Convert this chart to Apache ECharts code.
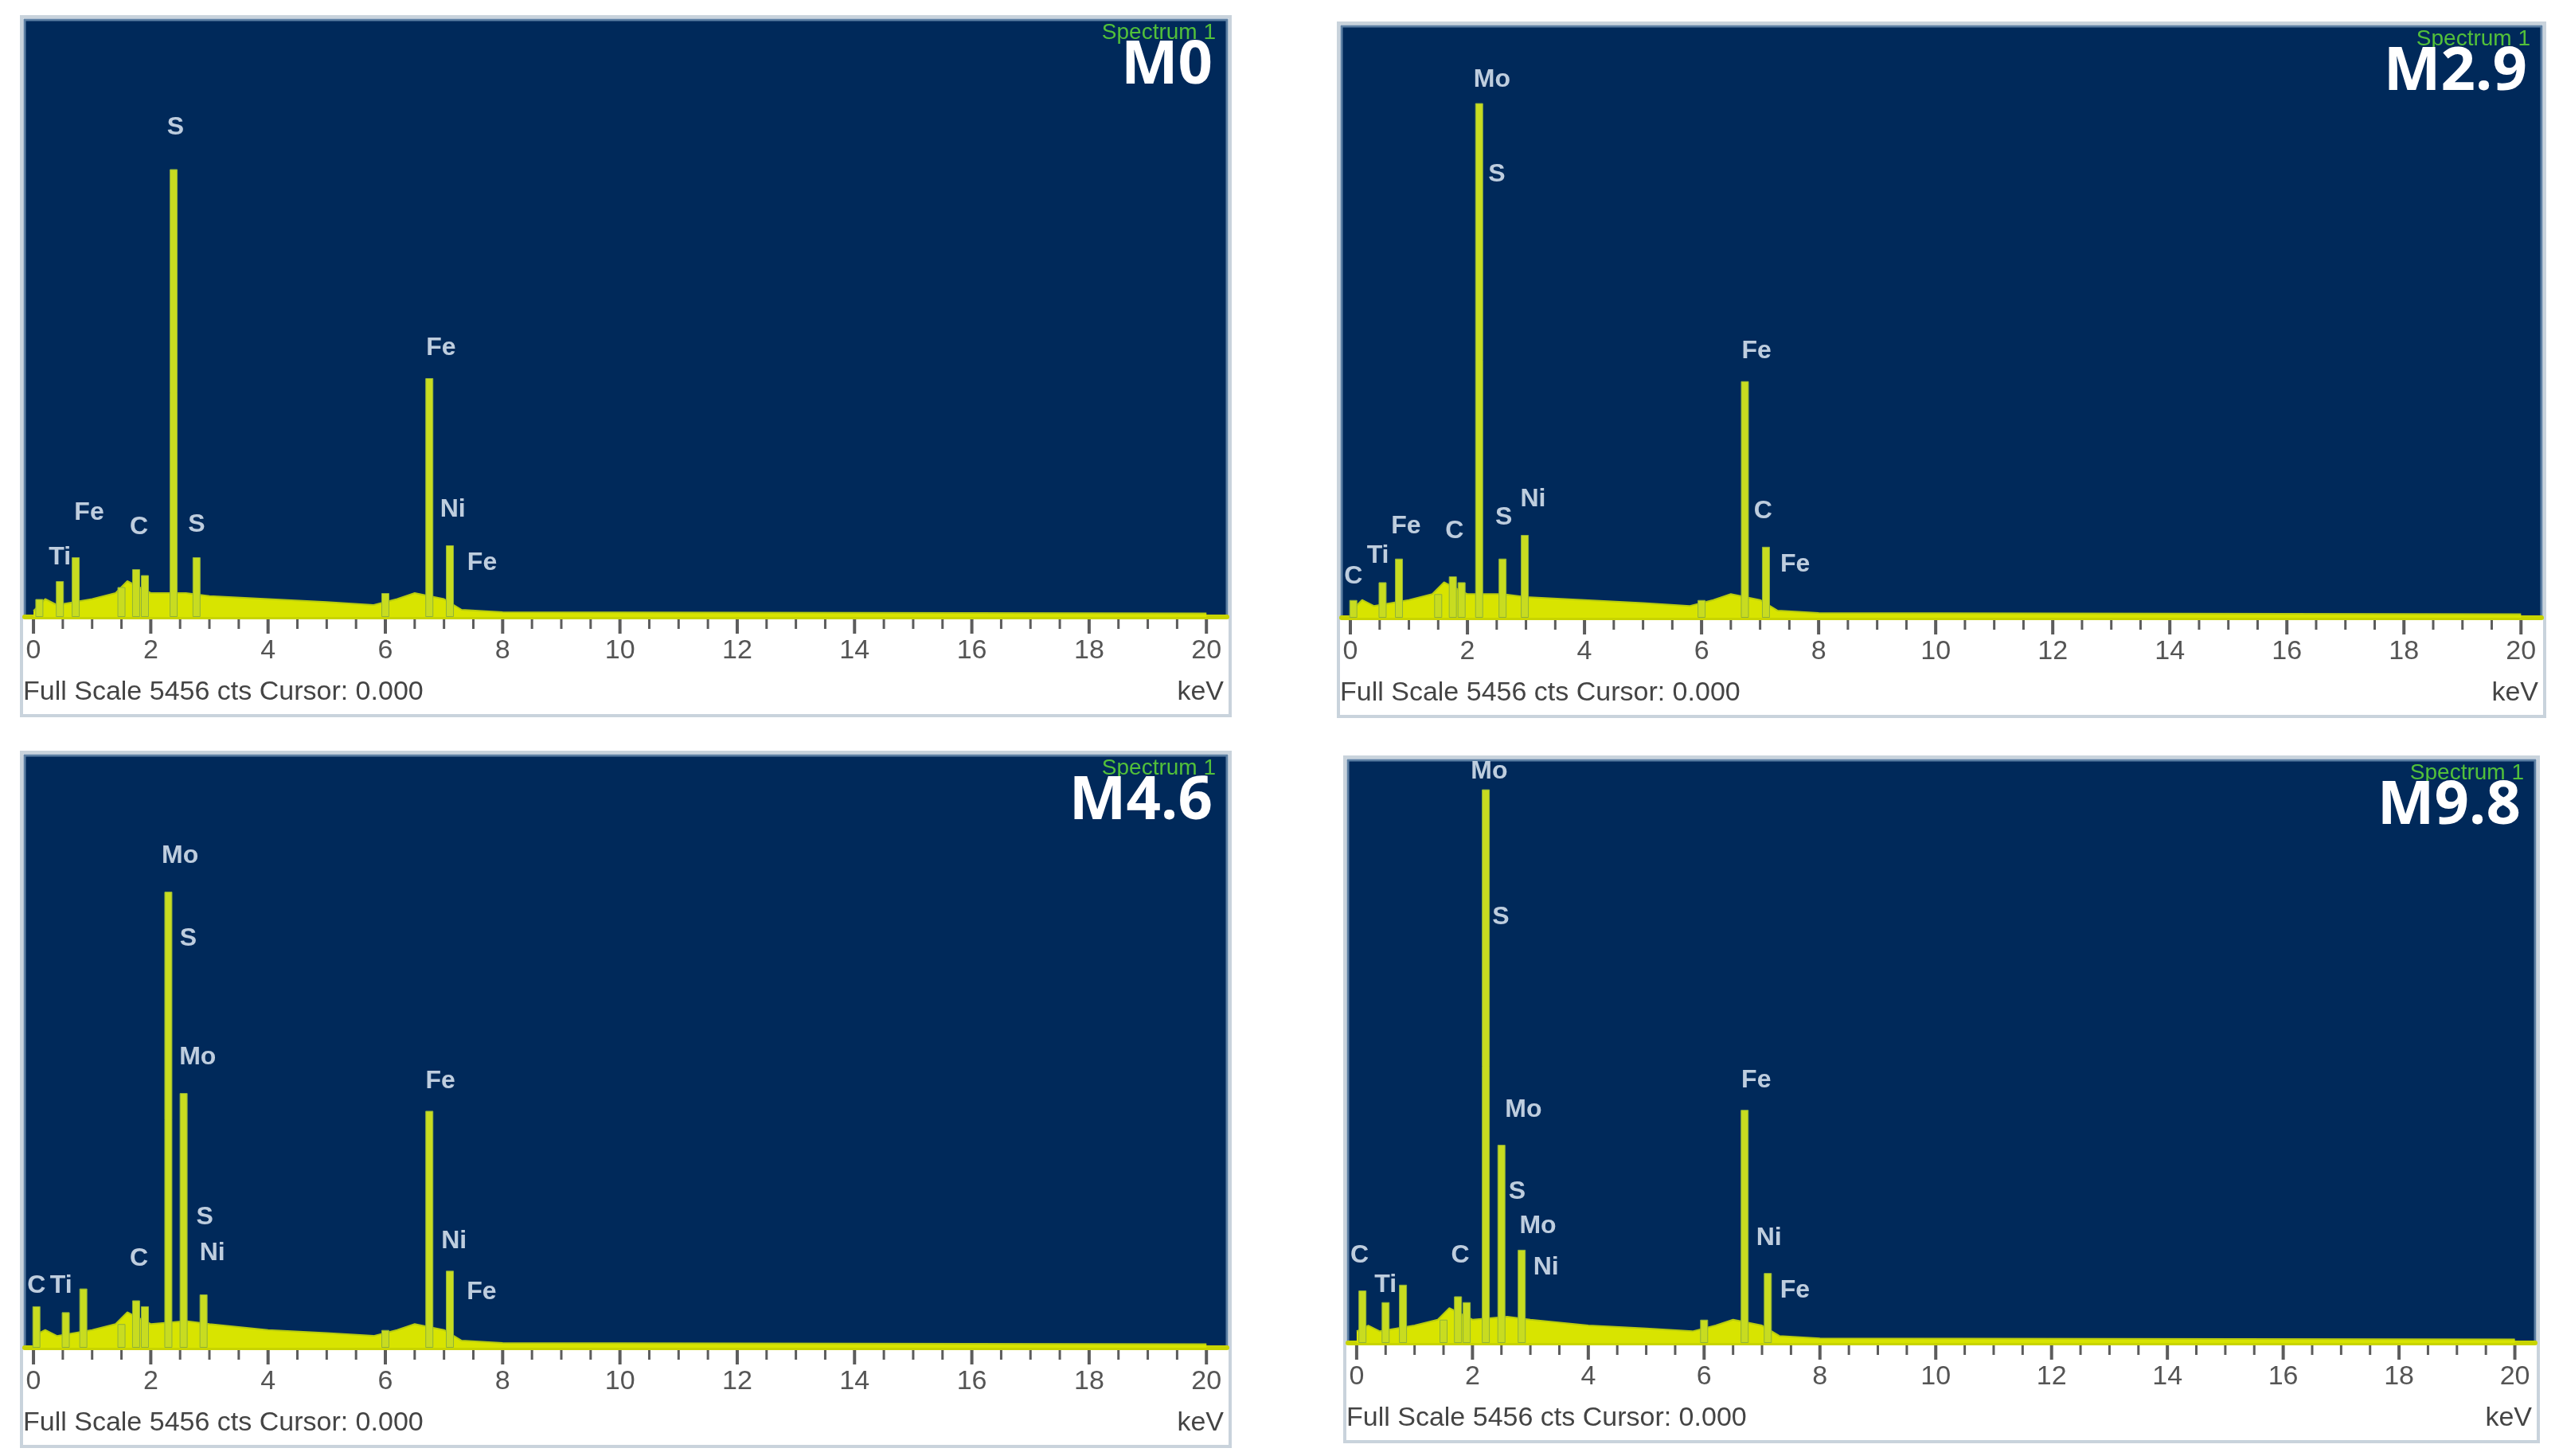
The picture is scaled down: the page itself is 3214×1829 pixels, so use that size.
<!DOCTYPE html>
<html>
<head>
<meta charset="utf-8">
<script src="https://cdn.jsdelivr.net/npm/echarts@6/dist/echarts.min.js"></script>
<style>
  html, body { margin: 0; padding: 0; background: #ffffff; }
  #main { width: 3214px; height: 1829px; }
</style>
</head>
<body>
<div id="main"></div>
<script>
// sample names and tick values
var sampleNames = ['M0', 'M2.9', 'M4.6', 'M9.8'];
var majorTicks = [0, 2, 4, 6, 8, 10, 12, 14, 16, 18, 20];
var minorTicks = [0.5, 1, 1.5, 2.5, 3, 3.5, 4.5, 5, 5.5, 6.5, 7, 7.5, 8.5, 9, 9.5, 10.5, 11, 11.5,
    12.5, 13, 13.5, 14.5, 15, 15.5, 16.5, 17, 17.5, 18.5, 19, 19.5];

// peaks: [keV, % of full scale]
var peaksM0 = [[0.1, 3], [0.45, 6], [0.72, 10], [1.5, 5], [1.75, 8], [1.9, 7], [2.39, 75], [2.78, 10], [6.0, 4], [6.75, 40], [7.1, 12]];
var peaksM29 = [[0.05, 3], [0.55, 6], [0.83, 10], [1.5, 4], [1.75, 7], [1.9, 6], [2.2, 87], [2.6, 10], [2.98, 14], [6.0, 3], [6.74, 40], [7.1, 12]];
var peaksM46 = [[0.05, 7], [0.55, 6], [0.85, 10], [1.5, 4], [1.75, 8], [1.9, 7], [2.3, 77], [2.56, 43], [2.9, 9], [6.0, 3], [6.75, 40], [7.1, 13]];
var peaksM98 = [[0.1, 9], [0.5, 7], [0.8, 10], [1.5, 4], [1.75, 8], [1.9, 7], [2.23, 95], [2.5, 34], [2.85, 16], [6.0, 4], [6.7, 40], [7.1, 12]];

// continuum background: [keV, %]
var baseM0 = [[0, 1], [0.2, 3], [0.4, 2], [1.0, 3], [1.4, 4], [1.6, 6], [2.0, 4], [2.6, 4], [3.0, 3.5], [4.0, 3], [5.0, 2.5], [5.8, 2], [6.2, 3], [6.5, 4], [7.0, 3], [7.3, 1.2], [8.0, 0.8], [20, 0.6]];
var baseM29 = [[0, 1], [0.2, 3], [0.4, 2], [1.0, 3], [1.4, 4], [1.6, 6], [2.0, 4], [2.6, 4], [3.0, 3.5], [4.0, 3], [5.0, 2.5], [5.8, 2], [6.2, 3], [6.5, 4], [7.0, 3], [7.3, 1.2], [8.0, 0.8], [20, 0.6]];
var baseM46 = [[0, 2], [0.2, 3], [0.4, 2], [1.0, 3], [1.4, 4], [1.6, 6], [2.0, 4], [2.6, 4.5], [3.0, 4], [4.0, 3], [5.0, 2.5], [5.8, 2], [6.2, 3], [6.5, 4], [7.0, 3], [7.3, 1.2], [8.0, 0.8], [20, 0.6]];
var baseM98 = [[0, 2], [0.2, 3], [0.4, 2], [1.0, 3], [1.4, 4], [1.6, 6], [2.0, 4], [2.6, 4.5], [3.0, 4], [4.0, 3], [5.0, 2.5], [5.8, 2], [6.2, 3], [6.5, 4], [7.0, 3], [7.3, 1.2], [8.0, 0.8], [20, 0.6]];

// element labels: [keV, %, name]
var labelsM0 = [[0.45, 10, 'Ti'], [0.95, 17.5, 'Fe'], [1.8, 15, 'C'], [2.42, 82, 'S'], [2.78, 15.5, 'S'], [6.95, 45, 'Fe'], [7.15, 18, 'Ni'], [7.65, 9, 'Fe']];
var labelsM29 = [[0.05, 7, 'C'], [0.47, 10.5, 'Ti'], [0.95, 15.5, 'Fe'], [1.78, 14.6, 'C'], [2.42, 91, 'Mo'], [2.5, 75, 'S'], [2.62, 17, 'S'], [3.12, 20, 'Ni'], [6.94, 45, 'Fe'], [7.05, 18, 'C'], [7.6, 9, 'Fe']];
var labelsM46 = [[0.05, 10.5, 'C'], [0.47, 10.5, 'Ti'], [1.8, 15, 'C'], [2.5, 83, 'Mo'], [2.64, 69, 'S'], [2.8, 49, 'Mo'], [2.92, 22, 'S'], [3.05, 16, 'Ni'], [6.94, 45, 'Fe'], [7.17, 18, 'Ni'], [7.64, 9.4, 'Fe']];
var labelsM98 = [[0.05, 15, 'C'], [0.5, 10, 'Ti'], [1.79, 15, 'C'], [2.29, 98, 'Mo'], [2.49, 73, 'S'], [2.77, 26, 'S'], [2.88, 40, 'Mo'], [3.13, 20, 'Mo'], [3.27, 13, 'Ni'], [6.9, 45, 'Fe'], [7.12, 18, 'Ni'], [7.57, 9, 'Fe']];

var allPeaks = [peaksM0, peaksM29, peaksM46, peaksM98];
var allBase = [baseM0, baseM29, baseM46, baseM98];
var allLabels = [labelsM0, labelsM29, labelsM46, labelsM98];

// panel boxes in px: plot area left, top, width, height
var boxes = [
    { left: 31, top: 25, width: 1510, height: 750 },
    { left: 1685, top: 33, width: 1507, height: 743 },
    { left: 31, top: 949, width: 1510, height: 744 },
    { left: 1693, top: 955, width: 1491, height: 732 }
];

var myChart = echarts.init(document.getElementById('main'));
var font = '"Liberation Sans Narrow", "Liberation Sans", Arial, sans-serif';

var grid = [], xAxis = [], yAxis = [], series = [], graphic = [];
boxes.forEach(function (b, i) {
    grid.push({ left: b.left, top: b.top, width: b.width, height: b.height, show: true,
        backgroundColor: '#00295a', borderColor: '#5c7fa3', borderWidth: 3 });
    xAxis.push({ type: 'value', gridIndex: i, min: -0.15, max: 20.35, splitLine: { show: false },
        axisLine: { lineStyle: { color: '#c8d400', width: 6 } },
        axisTick: { show: false },
        axisLabel: { customValues: majorTicks, color: '#555', fontSize: 34, fontFamily: font, margin: 26 } });
    yAxis.push({ type: 'value', gridIndex: i, min: 0, max: 100, show: false });

    series.push({ type: 'line', xAxisIndex: i, yAxisIndex: i, data: allBase[i], symbol: 'none',
        lineStyle: { color: '#b8cc10', width: 2 }, areaStyle: { color: '#d8e400', opacity: 1 }, z: 2 });
    series.push({ type: 'bar', xAxisIndex: i, yAxisIndex: i, data: allPeaks[i], barWidth: 10,
        itemStyle: { color: '#c8dc20', borderColor: '#8fb23a', borderWidth: 1 }, z: 3 });
    // tick marks below the axis line
    series.push({ type: 'scatter', xAxisIndex: i, yAxisIndex: i, clip: false, silent: true, z: 6,
        data: majorTicks.map(function (v) { return [v, 0]; }),
        symbol: 'rect', symbolSize: [4, 18], symbolOffset: [0, 12], itemStyle: { color: '#333' } });
    series.push({ type: 'scatter', xAxisIndex: i, yAxisIndex: i, clip: false, silent: true, z: 6,
        data: minorTicks.map(function (v) { return [v, 0]; }),
        symbol: 'rect', symbolSize: [3, 12], symbolOffset: [0, 9], itemStyle: { color: '#333' } });
    series.push({ type: 'scatter', xAxisIndex: i, yAxisIndex: i, symbolSize: 0, z: 5,
        data: allLabels[i].map(function (d) { return { value: [d[0], d[1]], name: d[2] }; }),
        label: { show: true, position: 'inside', formatter: '{b}', color: '#eef6ff',
            fontSize: 32, fontWeight: 'bold', fontFamily: font } });

    // panel frame and texts
    graphic.push({ type: 'rect', shape: { x: b.left - 4, y: b.top - 4, width: b.width + 8, height: b.height + 128 },
        style: { fill: 'none', stroke: '#c9d3dc', lineWidth: 4 }, z: -1 });
    graphic.push({ type: 'text', x: b.left + b.width - 14, y: b.top + 2,
        style: { text: 'Spectrum 1', fill: '#52c03a', font: '28px ' + font, textAlign: 'right' }, z: 10 });
    graphic.push({ type: 'text', x: b.left + b.width - 18, y: b.top + 20,
        style: { text: sampleNames[i], fill: '#ffffff', font: 'bold 76px "Open Sans", "DejaVu Sans", sans-serif',
            textAlign: 'right' }, z: 10 });
    graphic.push({ type: 'text', x: b.left - 2, y: b.top + b.height + 78,
        style: { text: 'Full Scale 5456 cts Cursor: 0.000', fill: '#444', font: '34px ' + font }, z: 10 });
    graphic.push({ type: 'text', x: b.left + b.width - 4, y: b.top + b.height + 78,
        style: { text: 'keV', fill: '#444', font: '34px ' + font, textAlign: 'right' }, z: 10 });
});

var option = {
    backgroundColor: '#ffffff',
    animation: false,
    grid: grid,
    xAxis: xAxis,
    yAxis: yAxis,
    series: series,
    graphic: graphic
};

myChart.setOption(option);
window.addEventListener('resize', function () {
    myChart.resize();
});
</script>
</body>
</html>
